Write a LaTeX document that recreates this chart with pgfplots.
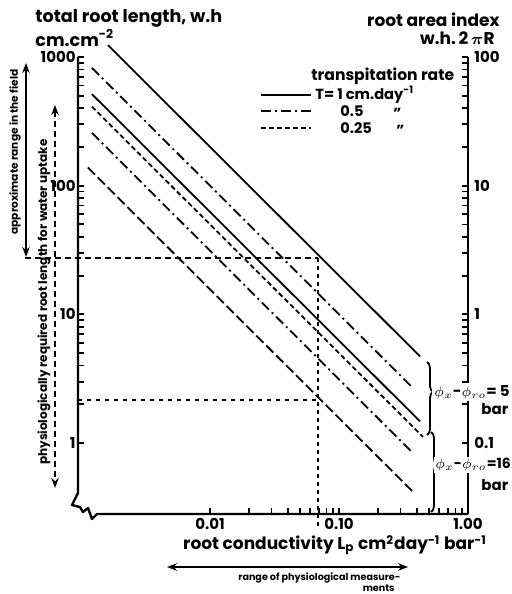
\documentclass[border=0pt]{standalone}
\usepackage{amsmath}
\usepackage{fontspec}
\setmainfont{Poppins}
\usepackage{pgfplots}
\pgfplotsset{compat=1.18}
\usetikzlibrary{arrows.meta,decorations.pathreplacing}
\newcommand{\fs}[1]{\fontsize{#1}{#1}\selectfont}
\begin{document}
\begin{tikzpicture}[font=\bfseries]
\tikzset{px/.style={shift={(-39pt,257pt)},x=0.5pt,y=-0.5pt}}
\begin{axis}[
  scale only axis, width=195pt, height=228.5pt,
  xmode=log, ymode=log,
  xmin=0.000948, xmax=1, ymin=0.2807, ymax=1000,
  axis x line*=bottom, axis y line*=left,
  axis line style={draw=none},
  tick align=inside,
  major tick length=3pt,
  tick style={line width=0.9pt, black},
  xtick={0.01,0.1,1}, xticklabels={0.01,0.10,1.00},
  ytick={1,10,100,1000}, yticklabels={1,10,100,1000},
  minor xtick={}, minor ytick={},
  /pgf/number format/assume math mode=true,
  ticklabel style={font=\bfseries\fs{7.5}},
  yticklabel style={inner xsep=1pt},
  xticklabel style={inner ysep=2pt},
  clip=false,
]
\addplot[black, line width=0.9pt] coordinates {(0.00162,1234.6) (0.425,4.706)};
\addplot[black, line width=0.9pt, dash pattern=on 5pt off 2pt on 1pt off 2pt] coordinates {(0.001216,822.4) (0.368,2.717)};
\addplot[black, line width=0.9pt] coordinates {(0.001216,514.0) (0.425,1.4706)};
\addplot[black, line width=0.9pt, dash pattern=on 2.5pt off 1.5pt] coordinates {(0.001216,411.2) (0.448,1.116)};
\addplot[black, line width=0.9pt, dash pattern=on 5pt off 2pt on 1pt off 2pt] coordinates {(0.001216,257.0) (0.368,0.849)};
\addplot[black, line width=0.9pt, dash pattern=on 5pt off 2pt] coordinates {(0.00113,138.3) (0.375,0.4167)};
\draw[line width=0.8pt, dash pattern=on 3pt off 2pt] (axis cs:0.000368,27.4) -- (axis cs:0.0687,27.4);
\draw[line width=0.8pt, dash pattern=on 2pt off 2pt] (axis cs:0.0687,27.4) -- (axis cs:0.0687,0.211);
\draw[line width=0.8pt, dash pattern=on 2pt off 2.5pt] (axis cs:0.00095,2.16) -- (axis cs:0.0687,2.16);
\end{axis}
\begin{axis}[
  scale only axis, width=195pt, height=228.5pt,
  xmode=log, ymode=log,
  xmin=0.000948, xmax=1, ymin=0.02807, ymax=100,
  axis x line=none, axis y line*=right,
  axis line style={line width=1.2pt, -},
  tick align=inside,
  major tick length=3pt,
  tick style={line width=0.9pt, black},
  ytick={0.1,1,10,100}, yticklabels={0.1,1,10,100},
  minor ytick={},
  /pgf/number format/assume math mode=true,
  ticklabel style={font=\bfseries\fs{7.5}},
  yticklabel style={inner xsep=3pt},
]
\end{axis}
\begin{scope}[px]
\draw[line width=1.2pt, line join=round] (78,57) -- (78,493) -- (72,505) -- (80,507) -- (83,512) -- (88,508) -- (92,519) -- (97,514) -- (468,514);
% titles
\node[anchor=west, inner sep=0pt, font=\bfseries\fs{8.8}] at (35,18) {total root length, w.h};
\node[anchor=west, inner sep=0pt, font=\bfseries\fs{8.8}] at (35,38) {cm.cm\textsuperscript{-2}};
\node[anchor=east, inner sep=0pt, font=\bfseries\fs{8.5}] at (500,20) {root area index};
\node[anchor=east, inner sep=0pt, font=\bfseries\fs{8.5}] at (495,38) {w.h.\,2\,$\boldsymbol{\pi}$R};
% legend
\node[anchor=west, inner sep=0pt, font=\bfseries\fs{7.8}] at (311,76) {transpitation rate};
\draw[line width=0.9pt] (261,95) -- (311,95);
\node[anchor=west, inner sep=0pt, font=\bfseries\fs{7.3}] at (315,95) {T= 1 cm.day\textsuperscript{-1}};
\draw[line width=0.9pt, dash pattern=on 5pt off 2pt on 1pt off 2pt] (261,111) -- (311,111);
\node[anchor=west, inner sep=0pt, font=\bfseries\fs{7.3}] at (340,111) {0.5};
\node[anchor=west, inner sep=0pt, font=\bfseries\fs{7.3}] at (393,113) {"};
\draw[line width=0.9pt, dash pattern=on 2.5pt off 1.5pt] (261,128) -- (311,128);
\node[anchor=west, inner sep=0pt, font=\bfseries\fs{7.3}] at (340,128) {0.25};
\node[anchor=west, inner sep=0pt, font=\bfseries\fs{7.3}] at (396,130) {"};
% x label
\node[inner sep=0pt, font=\bfseries\fs{8.5}] at (335,545) {root conductivity L\textsubscript{p} cm\textsuperscript{2}day\textsuperscript{-1} bar\textsuperscript{-1}};
\draw[line width=0.9pt, {Stealth[length=5pt]}-{Stealth[length=5pt]}] (167,567) -- (408,567);
\node[anchor=west, inner sep=0pt, font=\bfseries\fs{4.8}] at (238,578) {range of physiological measure-};
\node[anchor=east, inner sep=0pt, font=\bfseries\fs{4.8}] at (395,588) {ments};
% left annotations
\draw[line width=0.9pt, {Stealth[length=5pt]}-{Stealth[length=5pt]}] (26,63) -- (26,257);
\node[rotate=90, inner sep=0pt, font=\bfseries\fs{5.3}] at (15,152) {approximate range in the field};
\draw[line width=0.9pt, dash pattern=on 3pt off 2pt, {Stealth[length=5pt]}-{Stealth[length=5pt]}] (55,105) -- (55,488);
\node[rotate=90, inner sep=0pt, font=\bfseries\fs{6}] at (44,302) {physiologically required root length for water uptake};
% braces
\draw[line width=0.9pt, decorate, decoration={brace, amplitude=3pt, aspect=0.41}] (427,362) -- (427,435);
\draw[line width=0.9pt, decorate, decoration={brace, amplitude=3pt, aspect=0.41}] (431,432) -- (431,512);
\node[anchor=west, fill=white, inner sep=1pt, font=\bfseries\fs{7.5}] at (432,392) {$\phi_x$-$\phi_{ro}$= 5};
\node[anchor=west, fill=white, inner sep=1pt, font=\bfseries\fs{7.5}] at (479,409) {bar};
\node[anchor=west, fill=white, inner sep=0.5pt, font=\bfseries\fs{7}] at (434,465) {$\phi_x$-$\phi_{ro}$=16};
\node[anchor=west, fill=white, inner sep=1pt, font=\bfseries\fs{7.5}] at (479,485) {bar};
\pgfresetboundingbox
\path[use as bounding box] (0,0) rectangle (511,594);
\end{scope}
\end{tikzpicture}
\end{document}
